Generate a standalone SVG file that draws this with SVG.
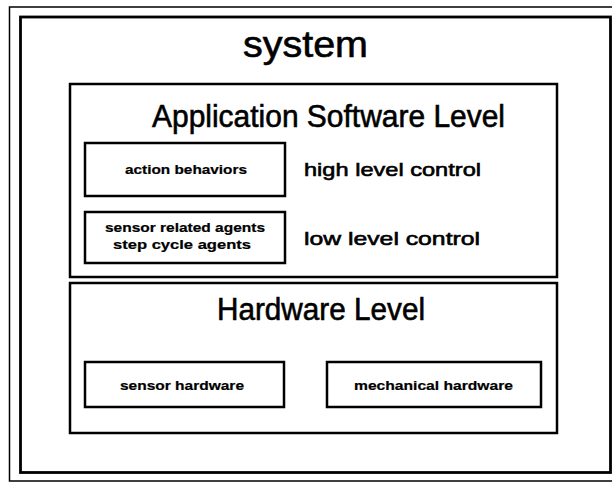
<svg xmlns="http://www.w3.org/2000/svg" width="612" height="483" viewBox="0 0 612 483">
<style>
.box{fill:none;stroke:#000;stroke-width:2.5}
.t{font-family:"Liberation Sans",Arial,Helvetica,sans-serif;fill:#000;stroke:#000}
.big{font-size:31px;stroke-width:0.6}
.mid{font-size:19px;stroke-width:0.6}
.sm{font-size:12.5px;font-weight:bold;stroke-width:0.2}
</style>
<rect width="612" height="483" fill="#fff"/>
<g id="frame">
<rect x="9.5" y="7" width="610" height="474" fill="none" stroke="#000" stroke-width="1.5"/>
<rect x="20.5" y="17" width="590" height="455.5" fill="none" stroke="#000" stroke-width="2.8"/>
</g>
<g id="system">
<text class="t big" x="243" y="57" textLength="125" lengthAdjust="spacingAndGlyphs" style="font-size:36px">system</text>
</g>
<g id="app-level">
<rect class="box" x="70" y="84" width="487" height="193"/>
<text class="t big" x="152" y="127" textLength="353" lengthAdjust="spacingAndGlyphs">Application Software Level</text>
</g>
<g id="action-behaviors">
<rect class="box" x="85" y="143" width="200" height="53"/>
<text class="t sm" x="125" y="174" textLength="122" lengthAdjust="spacingAndGlyphs">action behaviors</text>
</g>
<g id="high-level">
<text class="t mid" x="304" y="176" textLength="177" lengthAdjust="spacingAndGlyphs">high level control</text>
</g>
<g id="sensor-agents">
<rect class="box" x="85" y="212" width="200" height="51"/>
<text class="t sm" x="105" y="232" textLength="160" lengthAdjust="spacingAndGlyphs">sensor related agents</text>
<text class="t sm" x="113" y="249" textLength="138" lengthAdjust="spacingAndGlyphs">step cycle agents</text>
</g>
<g id="low-level">
<text class="t mid" x="304" y="245" textLength="176" lengthAdjust="spacingAndGlyphs">low level control</text>
</g>
<g id="hardware-level">
<rect class="box" x="70" y="283" width="487" height="150"/>
<text class="t big" x="217" y="320" textLength="208" lengthAdjust="spacingAndGlyphs">Hardware Level</text>
</g>
<g id="sensor-hardware">
<rect class="box" x="85" y="362" width="199" height="45"/>
<text class="t sm" x="120" y="390" textLength="124" lengthAdjust="spacingAndGlyphs">sensor hardware</text>
</g>
<g id="mechanical-hardware">
<rect class="box" x="327" y="362" width="214" height="45"/>
<text class="t sm" x="354" y="390" textLength="159" lengthAdjust="spacingAndGlyphs">mechanical hardware</text>
</g>
<g id="connectors"/>
</svg>
